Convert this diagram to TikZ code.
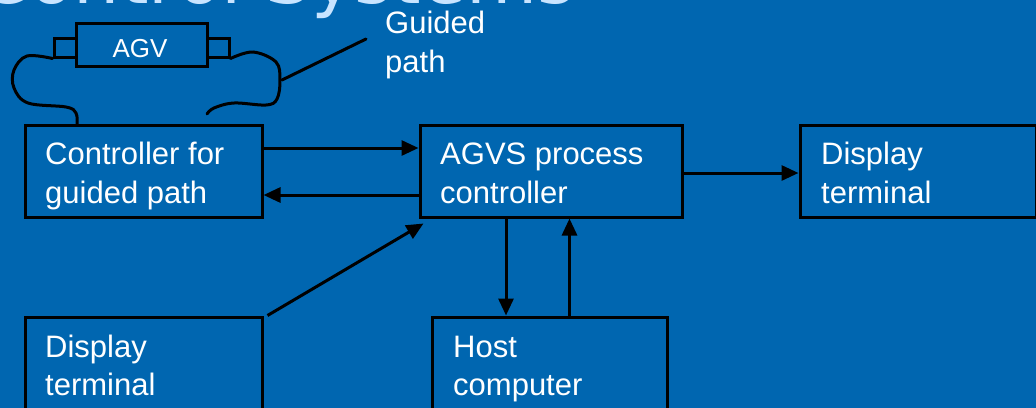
\documentclass[tikz,border=0pt]{standalone}
\usepackage{fontspec}
\setmainfont{Liberation Sans}
\newfontfamily\titlefont{DejaVu Sans}
\usetikzlibrary{arrows.meta}
\definecolor{bg}{RGB}{0,102,176}
\definecolor{titlec}{RGB}{200,228,255}
\tikzset{
  box/.style={draw=black, line width=3pt, fill=bg, inner sep=0pt},
  txt/.style={text=white, inner sep=0pt, anchor=base west, font=\fontsize{31}{39}\selectfont},
  arr/.style={draw=black, line width=3pt, -{Triangle[length=17pt,width=15pt]}},
  wire/.style={draw=black, line width=3pt, line cap=round},
}
\begin{document}
\begin{tikzpicture}[x=1pt,y=-1pt]
\useasboundingbox (0,0) rectangle (1036,407);
\clip (0,0) rectangle (1036,407);
\fill[bg] (-5,-5) rectangle (1041,412);
% partially visible title
\node[text=titlec, inner sep=0pt, anchor=base west, font=\titlefont\fontsize{73}{80}\selectfont] (title) at (-22,3) {Control Systems};
% AGV
\node[box, minimum width=131, minimum height=43] (agv) at (141.5,44.5) {};
\node[text=white, inner sep=0pt, font=\fontsize{26}{30}\selectfont, anchor=base] (agvt) at (140,57) {AGV};
\node[box, minimum width=22, minimum height=19] (agvl) at (65,47.5) {};
\node[box, minimum width=22, minimum height=19] (agvr) at (218,47.5) {};
% boxes
\node[box, minimum width=237, minimum height=92] (ctrl) at (143.5,171) {};
\node[box, minimum width=262, minimum height=92] (agvs) at (551,171) {};
\node[box, minimum width=236, minimum height=92] (disp1) at (918,171) {};
\node[box, minimum width=237, minimum height=110] (disp2) at (143.5,372) {};
\node[box, minimum width=235, minimum height=110] (host) at (549.5,372) {};
% texts
\node[txt] (t1a) at (45,164) {Controller for};
\node[txt] (t1b) at (45,203) {guided path};
\node[txt] (t2a) at (440,164) {AGVS process};
\node[txt] (t2b) at (440,203) {controller};
\node[txt] (t3a) at (821,164) {Display};
\node[txt] (t3b) at (821,203) {terminal};
\node[txt] (t4a) at (45,357) {Display};
\node[txt] (t4b) at (45,395) {terminal};
\node[txt] (t5a) at (453,357) {Host};
\node[txt] (t5b) at (453,395) {computer};
\node[txt] (g1) at (385,33) {Guided};
\node[txt] (g2) at (385,72) {path};
% guided path wire
\draw[wire] plot[smooth, tension=0.6] coordinates {(agvl.south west) (27,56) (14,70) (14,88) (28,103) (66,107) (76,113) (77,124)};
\draw[wire] plot[smooth, tension=0.6] coordinates {(agvr.south east) (253,52) (276,62) (280,80) (277,99) (266,105) (234,103) (214,108) (207,114)};
\coordinate (lp) at (282,80);
\coordinate (lq) at (366,39);
\draw[wire] (lp) -- (lq);
% arrows
\draw[arr] ([yshift=23pt]ctrl.east) -- ([yshift=23pt]ctrl.east -| agvs.west);
\draw[arr] ([yshift=-24pt]agvs.west) -- ([yshift=-24pt]agvs.west -| ctrl.east);
\draw[arr] ([yshift=-2pt]agvs.east) -- ([yshift=-2pt]agvs.east -| disp1.west);
\draw[arr] ([xshift=4pt]disp2.north east) -- ([xshift=5pt,yshift=-5pt]agvs.south west);
\draw[arr] ([xshift=-45pt]agvs.south) -- ([xshift=-45pt]agvs.south |- host.north);
\draw[arr] ([xshift=20pt]host.north) -- ([xshift=20pt]host.north |- agvs.south);
\end{tikzpicture}
\end{document}
